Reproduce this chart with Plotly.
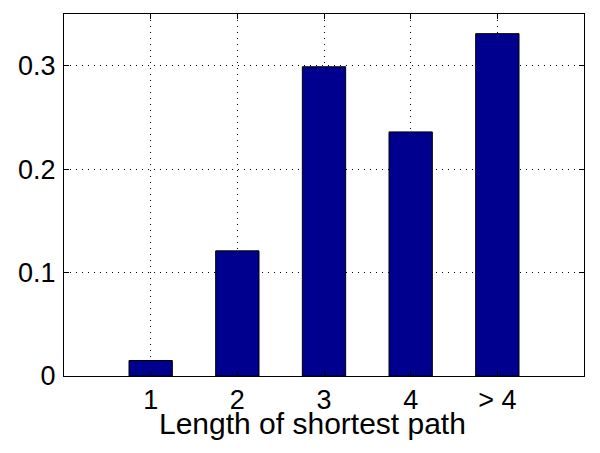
import plotly.graph_objects as go

# shortest path length distribution
categories = ["1", "2", "3", "4", "> 4"]
positions = [1, 2, 3, 4, 5]
fractions = [0.015, 0.121, 0.299, 0.236, 0.331]

y_ticks = [0, 0.1, 0.2, 0.3]
y_labels = ["0", "0.1", "0.2", "0.3"]

FONT = "Liberation Sans, Arial, sans-serif"

fig = go.Figure()

fig.add_trace(go.Bar(
    x=positions,
    y=fractions,
    width=0.5,
    marker=dict(color="#00008F", line=dict(color="black", width=1)),
))

axis_style = dict(
    showline=True,
    linecolor="black",
    linewidth=1,
    mirror="allticks",
    ticks="inside",
    ticklen=5,
    tickcolor="black",
    showgrid=True,
    gridcolor="black",
    gridwidth=1,
    griddash="1px,5px",
    zeroline=False,
    tickfont=dict(family=FONT, size=27, color="black"),
)

fig.update_xaxes(
    range=[0, 6],
    tickvals=positions,
    ticktext=categories,
    **axis_style,
)
fig.update_yaxes(
    range=[0, 0.35],
    tickvals=y_ticks,
    ticktext=y_labels,
    ticklabelstandoff=2,
    **axis_style,
)

# x label placed like the original (slightly left of centre, tight under ticks)
fig.add_annotation(
    text="Length of shortest path",
    xref="paper", yref="paper",
    x=0.477, y=-0.131,
    xanchor="center", yanchor="middle",
    showarrow=False,
    font=dict(family=FONT, size=30, color="black"),
)

# page body adds an 8px margin, so the figure is drawn 8px smaller
fig.update_layout(
    width=592,
    height=445,
    margin=dict(l=56, r=16, t=6, b=77),
    plot_bgcolor="white",
    paper_bgcolor="white",
    showlegend=False,
)

fig.write_html("out.html")
